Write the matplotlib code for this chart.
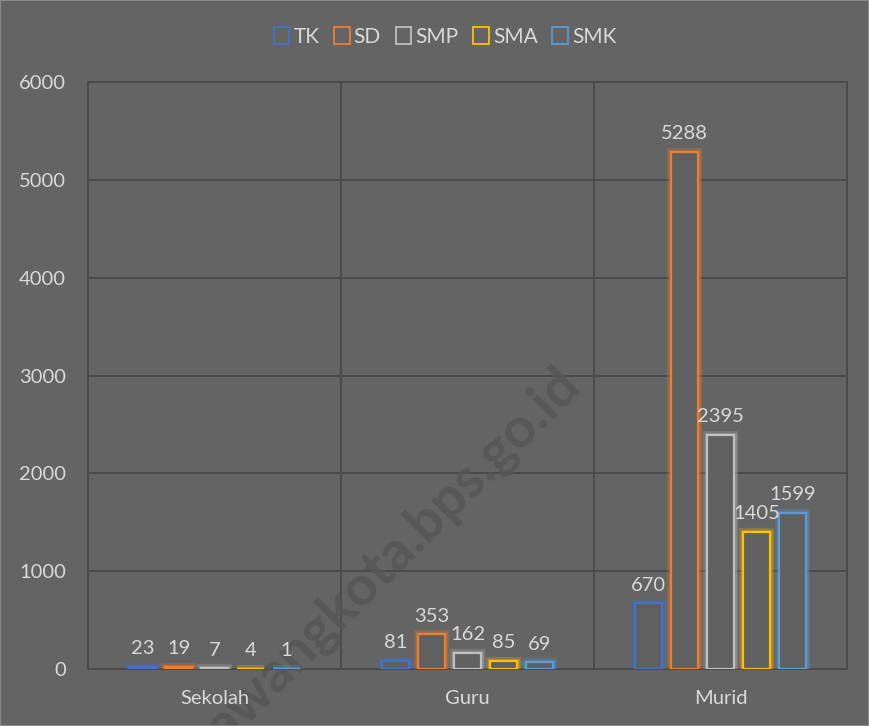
import matplotlib.pyplot as plt
import numpy as np

# data
categories = ["Sekolah", "Guru", "Murid"]
levels = ["TK", "SD", "SMP", "SMA", "SMK"]
tk = [23, 81, 670]
sd = [19, 353, 5288]
smp = [7, 162, 2395]
sma = [4, 85, 1405]
smk = [1, 69, 1599]
y_ticks = [0, 1000, 2000, 3000, 4000, 5000, 6000]

series = [tk, sd, smp, sma, smk]
colors = ["#4472C4", "#ED7D31", "#BFBFBF", "#FFC000", "#5B9BD5"]
bg = "#646464"
grid_col = "#4b4b4b"
txt_col = "#d9d9d9"

plt.rcParams["font.family"] = ["Lato", "DejaVu Sans"]

fig = plt.figure(figsize=(8.69, 7.26), dpi=100, facecolor=bg)
ax = fig.add_axes([0.1013, 0.0785, 0.8734, 0.8085])
ax.set_facecolor(bg)

x = np.arange(len(categories))
step = 0.142
width = 0.107

for i, (vals, col, name) in enumerate(zip(series, colors, levels)):
    pos = x + (i - 2) * step
    # soft glow behind the outline
    ax.bar(pos, vals, width, facecolor="none", edgecolor=col, linewidth=6, alpha=0.22, zorder=3)
    ax.bar(pos, vals, width, facecolor="none", edgecolor=col, linewidth=3.5, alpha=0.3, zorder=3)
    ax.bar(pos, vals, width, facecolor="#606060", edgecolor=col, linewidth=1.6,
           label=name, zorder=4)
    for p, v in zip(pos, vals):
        ax.annotate(str(v), (p, v), xytext=(0, 7), textcoords="offset points",
                    ha="center", va="bottom", color=txt_col, fontsize=14.5, zorder=5)

ax.set_xlim(-0.5, 2.5)
ax.set_ylim(0, 6000)
ax.set_yticks(y_ticks)
ax.set_xticks(x)
ax.set_xticklabels(categories)
ax.tick_params(length=0, colors=txt_col, labelsize=14.5)
ax.tick_params(axis="x", pad=15)
ax.tick_params(axis="y", pad=16)
ax.xaxis.set_zorder(5)
ax.yaxis.set_zorder(5)

# gridlines: horizontal at ticks, vertical between categories
for y in y_ticks:
    ax.axhline(y, color=grid_col, linewidth=1.4, zorder=1)
for xb in [0.5, 1.5]:
    ax.axvline(xb, color=grid_col, linewidth=1.4, zorder=1)
for s in ax.spines.values():
    s.set_color(grid_col)
    s.set_linewidth(1.4)
    s.set_zorder(1)

leg = fig.legend(loc="center", bbox_to_anchor=(0.512, 0.949), ncol=5, frameon=False,
                 fontsize=15, handlelength=0.75, handleheight=0.9, handletextpad=0.2,
                 columnspacing=0.7, labelcolor=txt_col)
for h, col in zip(leg.legend_handles, colors):
    h.set_facecolor("none")
    h.set_edgecolor(col)
    h.set_linewidth(1.3)
    h.set_alpha(1)

# watermark, placed under the labels and bars
ax.text(0.268, -0.036, "awangkota.bps.go.id", transform=fig.transFigure, rotation=45,
        rotation_mode="anchor", ha="left", va="bottom", fontsize=40, fontweight="bold",
        color="#575757", alpha=0.9, zorder=2, clip_on=False)

fig.patches.append(plt.Rectangle((0, 0), 1, 1, transform=fig.transFigure, fill=False,
                                 edgecolor="#8a8a8a", linewidth=1.5))

fig.savefig("out.png", dpi=100, facecolor=bg)
